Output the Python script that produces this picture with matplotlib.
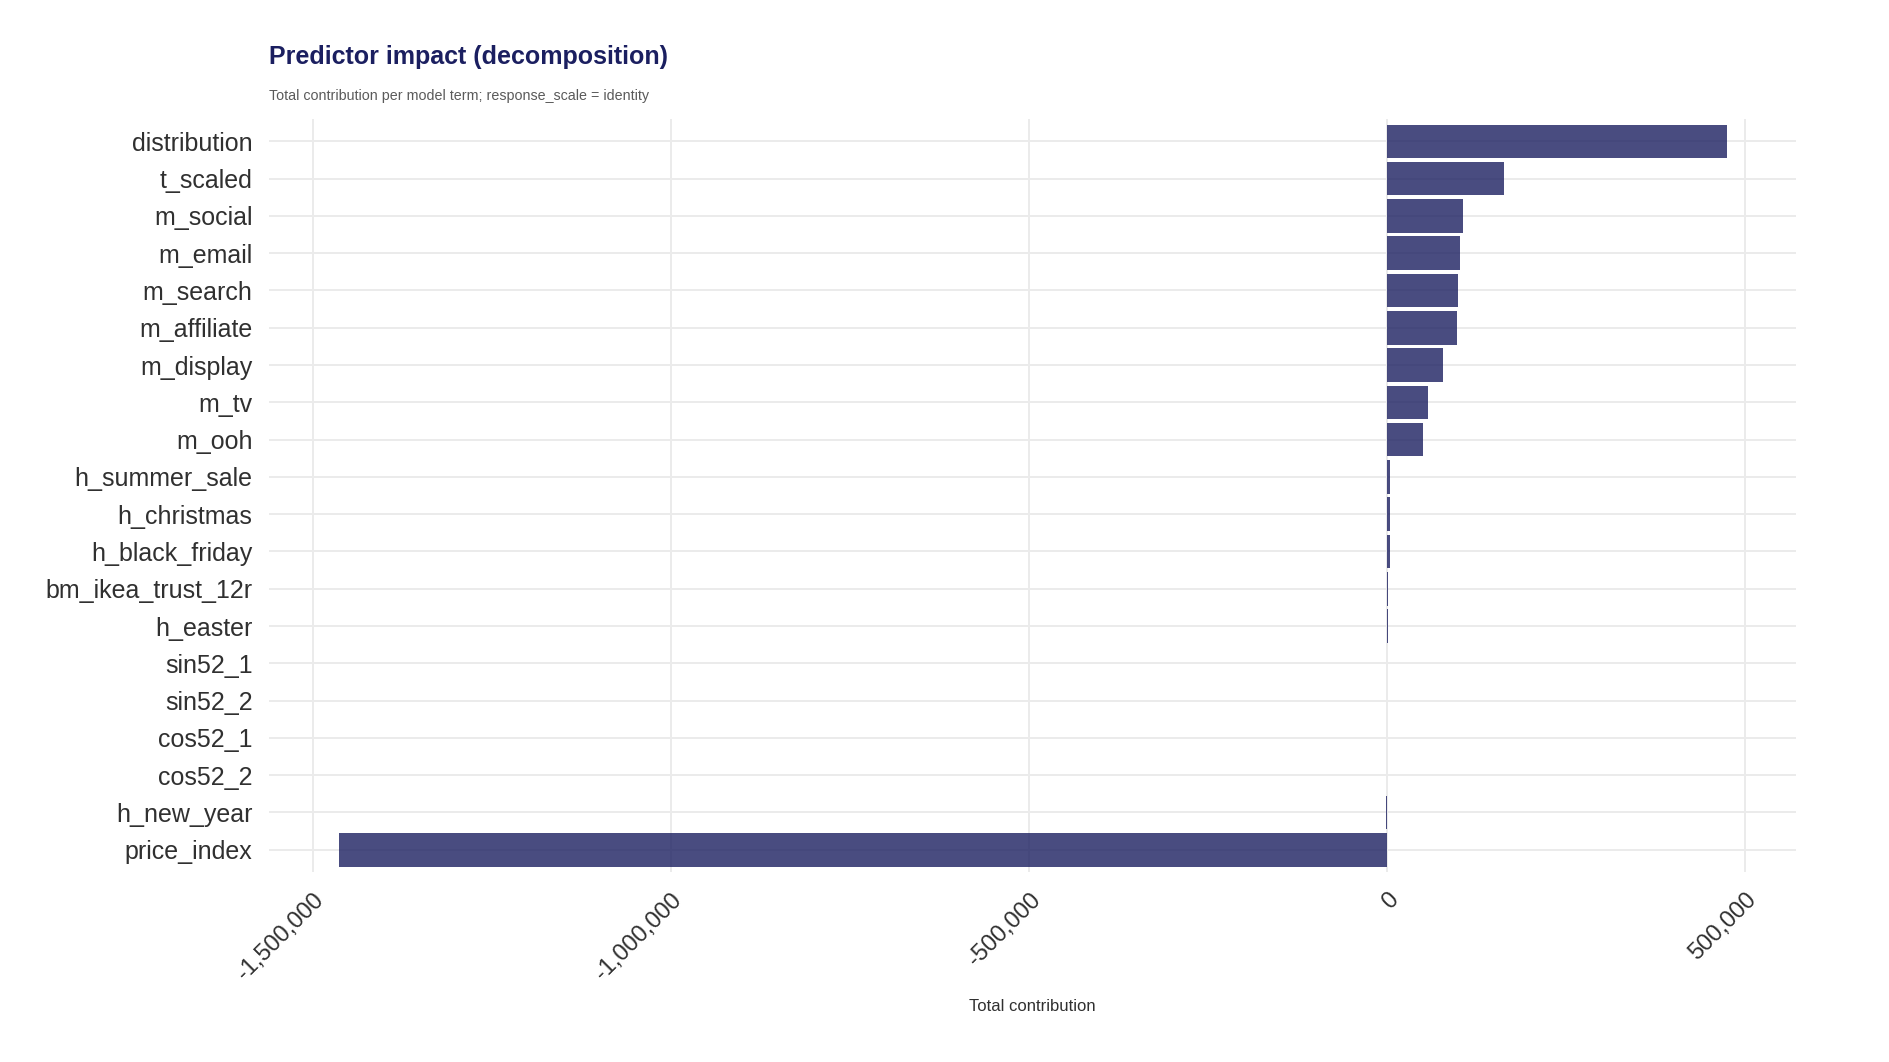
import numpy as np
import matplotlib
matplotlib.use('Agg')
import matplotlib.pyplot as plt
from matplotlib.ticker import FuncFormatter

plt.rcParams['font.family'] = ['Liberation Sans', 'DejaVu Sans']

# model terms, top to bottom
terms = ['distribution', 't_scaled', 'm_social', 'm_email', 'm_search',
         'm_affiliate', 'm_display', 'm_tv', 'm_ooh', 'h_summer_sale',
         'h_christmas', 'h_black_friday', 'bm_ikea_trust_12r', 'h_easter',
         'sin52_1', 'sin52_2', 'cos52_1', 'cos52_2', 'h_new_year', 'price_index']
contrib = [473700, 162300, 105000, 101900, 99300,
           97700, 78300, 57300, 50400, 4200,
           3900, 3700, 1000, 800,
           0, 0, 0, 0, -1200, -1464000]
xticks = [-1500000, -1000000, -500000, 0, 500000]

navy = '#1B1F60'
grid_col = '#EBEBEB'

fig = plt.figure(figsize=(18.89, 10.62), dpi=100)
ax = fig.add_axes([0.1425, 0.1788, 0.8083, 0.7092])

ypos = np.arange(len(terms))[::-1]
ax.barh(ypos, contrib, height=0.9, color=navy, alpha=0.8, zorder=2)

ax.set_yticks(ypos)
ax.set_yticklabels(terms, fontsize=18, color='#303030')
ax.set_xticks(xticks)
ax.xaxis.set_major_formatter(FuncFormatter(lambda v, p: '{:,.0f}'.format(v)))
for lab in ax.get_xticklabels():
    lab.set_rotation(45)
    lab.set_ha('right')
    lab.set_va('top')
    lab.set_rotation_mode('anchor')
    lab.set_fontsize(17)
    lab.set_color('#303030')

ax.margins(x=0.05)
ax.set_ylim(-0.6, len(terms) - 1 + 0.6)

ax.grid(True, color=grid_col, linewidth=1.4, zorder=0)
ax.set_axisbelow(True)
for s in ax.spines.values():
    s.set_visible(False)
ax.tick_params(axis='both', length=0)
ax.tick_params(axis='y', pad=12)
ax.tick_params(axis='x', pad=12)

ax.set_xlabel('Total contribution', fontsize=12, color='#303030')
ax.xaxis.set_label_coords(0.5, -0.169)

fig.text(0.1425, 0.946, 'Predictor impact (decomposition)', fontsize=18,
         fontweight='bold', color=navy, ha='left', va='center')
fig.text(0.1425, 0.910, 'Total contribution per model term; response_scale = identity',
         fontsize=10.3, color='#5a5a5a', ha='left', va='center')

fig.savefig('out.png', dpi=100, facecolor='white')
